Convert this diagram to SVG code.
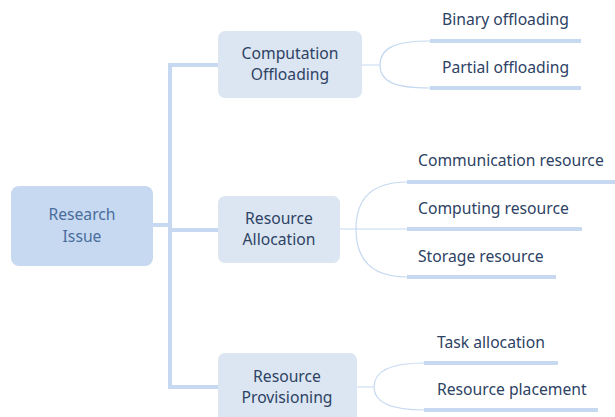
<svg xmlns="http://www.w3.org/2000/svg" width="615" height="417" viewBox="0 0 615 417">
<style>
.root{fill:#c6d9f1}
.main{fill:#dce6f2}
.t{font-family:"Noto Sans","Open Sans",sans-serif;font-size:15.7px;fill:#2d4264}
.rt{font-family:"Noto Sans","Open Sans",sans-serif;font-size:15.7px;fill:#4a6d9c;text-anchor:middle}
.mt{text-anchor:middle}
.trunk{stroke:#c6d9f1;stroke-width:4;fill:none}
.thin{stroke:#c6d9f1;stroke-width:1.2;fill:none}
.ul{stroke:#c6d9f1;stroke-width:4;fill:none}
</style>
<rect width="615" height="417" fill="#ffffff"/>
<g id="connectors">
<path class="trunk" d="M153,225 H170 M170,63 V389 M170,65 H218 M170,230 H218 M170,387 H218"/>
<path class="thin" d="M362,65 H380 M380,65 C380,48 395,41 430,41 M380,65 C380,82 395,88 430,88"/>
<path class="thin" d="M340,229 H356 M356,229 C356,200 370,182 407,182 M356,229 H407 M356,229 C356,258 370,277 407,277"/>
<path class="thin" d="M357,387 H374 M374,387 C374,372 390,363 424,363 M374,387 C374,402 390,410 424,410"/>
<path class="ul" d="M430,41 H581 M430,88 H581 M407,182 H615 M407,229 H582 M407,277 H556 M424,363 H558 M424,410 H598"/>
</g>
<g id="root">
<rect class="root" x="11" y="186" width="142" height="80" rx="8"/>
<text class="rt" x="82" y="220">Research</text>
<text class="rt" x="82" y="242">Issue</text>
</g>
<g id="computation-offloading">
<rect class="main" x="218" y="31" width="144" height="67" rx="7"/>
<text class="t mt" x="290" y="59">Computation</text>
<text class="t mt" x="290" y="80">Offloading</text>
</g>
<g id="resource-allocation">
<rect class="main" x="218" y="196" width="122" height="67" rx="7"/>
<text class="t mt" x="279" y="224">Resource</text>
<text class="t mt" x="279" y="245">Allocation</text>
</g>
<g id="resource-provisioning">
<rect class="main" x="218" y="353" width="139" height="70" rx="7"/>
<text class="t mt" x="287" y="382">Resource</text>
<text class="t mt" x="287" y="403">Provisioning</text>
</g>
<g id="binary-offloading"><text class="t" x="442" y="25">Binary offloading</text></g>
<g id="partial-offloading"><text class="t" x="442" y="73">Partial offloading</text></g>
<g id="communication-resource"><text class="t" x="418" y="166">Communication resource</text></g>
<g id="computing-resource"><text class="t" x="418" y="214">Computing resource</text></g>
<g id="storage-resource"><text class="t" x="418" y="262">Storage resource</text></g>
<g id="task-allocation"><text class="t" x="437" y="348">Task allocation</text></g>
<g id="resource-placement"><text class="t" x="437" y="395">Resource placement</text></g>
</svg>
